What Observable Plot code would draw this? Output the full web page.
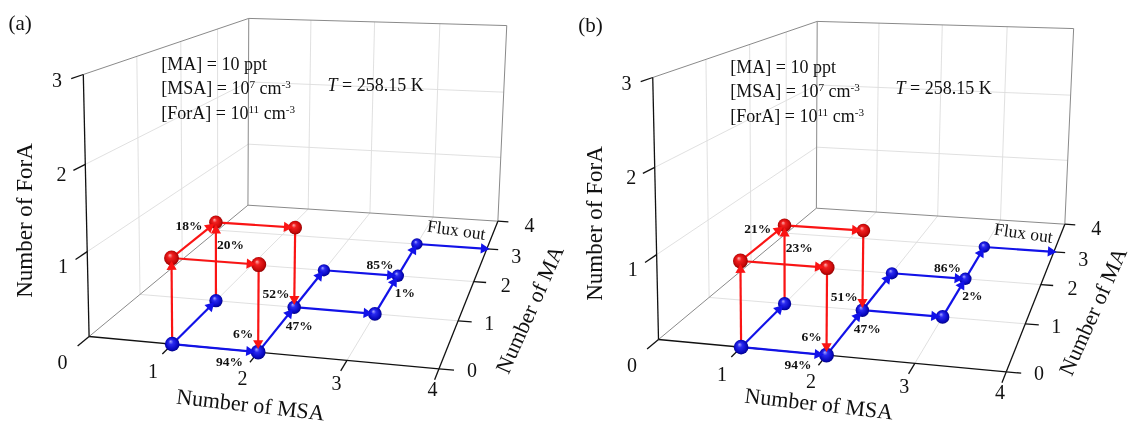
<!DOCTYPE html>
<html>
<head>
<meta charset="utf-8">
<script src="https://cdn.jsdelivr.net/npm/d3@7"></script>
<script src="https://cdn.jsdelivr.net/npm/@observablehq/plot@0.6"></script>
<style>html,body{margin:0;padding:0;background:#fff}svg{display:block;filter:blur(0.35px)}</style>
</head>
<body>
<div id="chart"></div>
<script>
// ---- data: clusters are [MSA, MA, ForA] counts ----
const msaTicks = [1, 2, 3, 4];
const maTicks = [0, 1, 2, 3, 4];
const foraTicks = [0, 1, 2, 3];
const blueClusters = [[1,0,0],[2,0,0],[1,1,0],[2,1,0],[3,1,0],[2,2,0],[3,2,0],[3,3,0]];
const redClusters = [[1,0,1],[2,0,1],[1,1,1],[2,1,1]];
const blueFluxes = [
  [[1,0,0],[2,0,0]], [[1,0,0],[1,1,0]], [[2,0,0],[2,1,0]], [[2,1,0],[2,2,0]],
  [[2,1,0],[3,1,0]], [[2,2,0],[3,2,0]], [[3,1,0],[3,2,0]], [[3,2,0],[3,3,0]],
  [[3,3,0],[4,3,0]]
];
const redFluxes = [
  [[1,0,0],[1,0,1]], [[1,1,0],[1,1,1]], [[1,0,1],[1,1,1]], [[1,0,1],[2,0,1]],
  [[1,1,1],[2,1,1]], [[2,0,1],[2,0,0]], [[2,1,1],[2,1,0]]
];
const percentA = ["18%","20%","52%","6%","94%","47%","85%","1%"];
const percentB = ["21%","23%","51%","6%","94%","47%","86%","2%"];

// ---- layout: anchors for annotations, camera, panels ----
const percentAnchors = [
  {node:[1,1,1],dx:-27,dy:3.6},{node:[1,1,1],dx:14.7,dy:22},{node:[2,1,0],dx:-18.2,dy:-14},
  {node:[2,0,0],dx:-15,dy:-18},{node:[2,0,0],dx:-28.6,dy:9.4},{node:[2,1,0],dx:5,dy:18.7},
  {node:[3,2,0],dx:-17.9,dy:-11},{node:[3,2,0],dx:7.1,dy:17.3}
];
// small per-label nudges [dx, dy] of the tick labels
const foraNudge = [[3,2],[6,-5],[7,-5],[5,-5]];
const msaNudge = [[2,6],[2,4.5],[3,1],[3,-2.5]];
const maNudge = [[-3.7,-1.7],[-2,0],[1.7,1.7],[1.7,5.7],[6,3]];
const notes = [
  {t:"[MA] = 10 ppt",x:160.8,y:64},
  {t:"[MSA] = 10^{7} cm^{-3}",x:160.8,y:88},
  {t:"[ForA] = 10^{11} cm^{-3}",x:160.8,y:113},
  {t:"*T* = 258.15 K",x:327,y:85}
];
const titles = [
  {t:"Number of MSA",x:250,y:404.5,rotate:6.5,size:22,panelDy:-1,panelDx:0},
  {t:"Number of ForA",x:24.3,y:220,rotate:-90,size:23,panelDy:3,panelDx:0},
  {t:"Number of MA",x:529.5,y:309,rotate:-66,size:22,panelDy:2,panelDx:-3.5}
];
const panels = [
  {idx:0,letter:"(a)",letterX:19.6,letterY:23,x0:88.6,sx:1,dy:0,percent:percentA},
  {idx:1,letter:"(b)",letterX:590,letterY:25,x0:658,sx:0.994,dy:3,percent:percentB}
];
// projective camera fitted to the box corners
function cam(msa, ma, fora) {
  const u = msa/4, v = ma/4, t = fora/3;
  const w = 1 - 0.0654*u + 0.4153*v - 0.042*t;
  return {
    x: (88.6 + 321.2*u + 261.6*v - 9.27*t)/w,
    y: (336 + 8.2*u - 46.3*v - 265.1*t)/w,
    w
  };
}
const place = (p, a) => ({x: p.x0 + (a.x - 88.6)*p.sx, y: a.y + p.dy, w: a.w});
const proj = (p, c) => place(p, cam(...c));
const seg = (p, a, b) => { const A = proj(p,a), B = proj(p,b); return {x1:A.x,y1:A.y,x2:B.x,y2:B.y}; };

const serif = "Liberation Serif, Times New Roman, serif";
const ballR = w => 7.2/w;

function panelMarks(p) {
  const grid = [], box = [], axes = [];
  for (const i of [1,2,3]) {
    grid.push(seg(p,[i,0,0],[i,4,0]), seg(p,[0,i,0],[4,i,0]), seg(p,[0,i,0],[0,i,3]), seg(p,[i,4,0],[i,4,3]));
  }
  for (const k of [1,2]) grid.push(seg(p,[0,0,k],[0,4,k]), seg(p,[0,4,k],[4,4,k]));
  box.push(seg(p,[0,0,3],[0,4,3]), seg(p,[0,4,3],[4,4,3]), seg(p,[4,4,3],[4,4,0]),
           seg(p,[0,4,0],[0,4,3]), seg(p,[0,4,0],[4,4,0]), seg(p,[0,0,0],[0,4,0]));
  axes.push(seg(p,[0,0,0],[0,0,3]), seg(p,[0,0,0],[4,0,0]), seg(p,[4,0,0],[4,4,0]));
  for (const k of foraTicks) axes.push(seg(p,[0,0,k],[0,-0.2,k]));
  for (const i of msaTicks) axes.push(seg(p,[i,0,0],[i,-0.2,0]));
  for (const j of maTicks) axes.push(seg(p,[4,j,0],[4.16,j,0]));

  const tickLabel = (v, c, n) => { const q = proj(p,c); return {t:String(v), x:q.x+n[0], y:q.y+n[1]}; };
  const tickLabels = [
    ...foraTicks.map((k,i) => tickLabel(k,[0,-0.5,k],foraNudge[i])),
    ...msaTicks.map((k,i) => tickLabel(k,[k,-0.42,0],msaNudge[i])),
    ...maTicks.map((k,i) => tickLabel(k,[4.39,k,0],maNudge[i]))
  ];

  const balls = (list) => list.map(c => { const q = proj(p,c); return {...q, r:ballR(q.w)}; });
  const heads = (list) => list.map(([a,b]) => {
    const A = proj(p,a), B = proj(p,b);
    const len = Math.hypot(B.x-A.x,B.y-A.y), ux=(B.x-A.x)/len, uy=(B.y-A.y)/len;
    const isNode = blueClusters.concat(redClusters).some(c => c.join()===b.join());
    const back = isNode ? ballR(B.w)+1.5 : 3;
    return {x:B.x-ux*back, y:B.y-uy*back, rotate:Math.atan2(ux,-uy)*180/Math.PI};
  });
  const blueSegs = blueFluxes.map(([a,b]) => seg(p,a,b));
  const redSegs = redFluxes.map(([a,b]) => seg(p,a,b));

  const percents = p.percent.map((t,i) => {
    const a = percentAnchors[i], n = proj(p,a.node);
    return {t, x:n.x+a.dx*p.sx, y:n.y+a.dy};
  });
  const flux = proj(p,[4,3,0]);
  const linkOpts = {x1:"x1",y1:"y1",x2:"x2",y2:"y2"};
  const shift = d => ({...d, x:p.x0+(d.x-88.6)*p.sx, y:d.y+p.dy});

  return [
    Plot.link(grid,{...linkOpts,stroke:"#dcdcdc",strokeWidth:0.9}),
    Plot.link(box,{...linkOpts,stroke:"#8a8a8a",strokeWidth:1}),
    Plot.link(axes,{...linkOpts,stroke:"#111",strokeWidth:1.3}),
    Plot.text(tickLabels,{x:"x",y:"y",text:"t",fontSize:20,fontFamily:serif,fill:"#111"}),
    ...titles.map(d => {
      const s = p.idx ? {t:d.t, x:p.x0+(d.x-88.6)*p.sx+d.panelDx, y:d.y+d.panelDy} : d;
      return Plot.text([s],{x:"x",y:"y",text:"t",rotate:d.rotate,fontSize:d.size,fontFamily:serif,fill:"#111"}); }),
    Plot.text(notes.map(shift),{x:"x",y:"y",text:"t",textAnchor:"start",fontSize:18,fontFamily:serif,fill:"#111"}),
    Plot.text([{t:p.letter,x:p.letterX,y:p.letterY}],{x:"x",y:"y",text:"t",fontSize:21,fontFamily:serif,fill:"#111"}),
    Plot.link(blueSegs,{...linkOpts,stroke:"#1212e8",strokeWidth:2.2}),
    Plot.link(redSegs,{...linkOpts,stroke:"#fa1414",strokeWidth:2.2}),
    Plot.dot(balls(blueClusters),{x:"x",y:"y",r:"r",fill:"url(#blueBall)"}),
    Plot.dot(balls(redClusters),{x:"x",y:"y",r:"r",fill:"url(#redBall)"}),
    Plot.dot(heads(blueFluxes),{x:"x",y:"y",rotate:"rotate",symbol:"triangle",r:3.8,fill:"#1212e8"}),
    Plot.dot(heads(redFluxes),{x:"x",y:"y",rotate:"rotate",symbol:"triangle",r:3.8,fill:"#fa1414"}),
    Plot.text(percents,{x:"x",y:"y",text:"t",fontSize:13.5,fontWeight:"bold",fontFamily:serif,fill:"#111"}),
    Plot.text([{t:"Flux out",x:flux.x-30.5*p.sx,y:flux.y-18.7}],{x:"x",y:"y",text:"t",rotate:8,fontSize:17.5,fontFamily:serif,fill:"#111"})
  ];
}

const plot = Plot.plot({
  width:1133, height:424, margin:0,
  x:{domain:[0,1133],range:[0,1133],axis:null},
  y:{domain:[0,424],range:[0,424],axis:null},
  r:{type:"identity"},
  style:{background:"#fff"},
  marks: panels.flatMap(panelMarks)
});

// sphere shading
const defs = d3.select(plot).insert("defs",":first-child");
for (const [id,stops] of [
  ["blueBall",[[0,"#a8a8ff"],[0.3,"#2a2af0"],[0.75,"#0808c0"],[1,"#000070"]]],
  ["redBall",[[0,"#ffb0b0"],[0.3,"#f02020"],[0.75,"#c80808"],[1,"#780000"]]]
]) {
  const g = defs.append("radialGradient").attr("id",id).attr("cx","0.5").attr("cy","0.5").attr("r","0.55").attr("fx","0.38").attr("fy","0.3");
  for (const [o,c] of stops) g.append("stop").attr("offset",o).attr("stop-color",c);
}

// superscripts and italics inside the text marks
d3.select(plot).selectAll("text").each(function () {
  const s = this.textContent;
  if (!/[\^*]/.test(s)) return;
  const el = d3.select(this);
  el.text(null);
  for (const m of s.matchAll(/\^\{([^}]*)\}|\*([^*]+)\*|([^*^]+)/g)) {
    const ts = el.append("tspan");
    if (m[1] != null) ts.text(m[1]).style("font-size","62%").style("baseline-shift","52%");
    else if (m[2] != null) ts.text(m[2]).style("font-style","italic");
    else ts.text(m[3]);
  }
});

document.getElementById("chart").append(plot);
</script>
</body>
</html>
